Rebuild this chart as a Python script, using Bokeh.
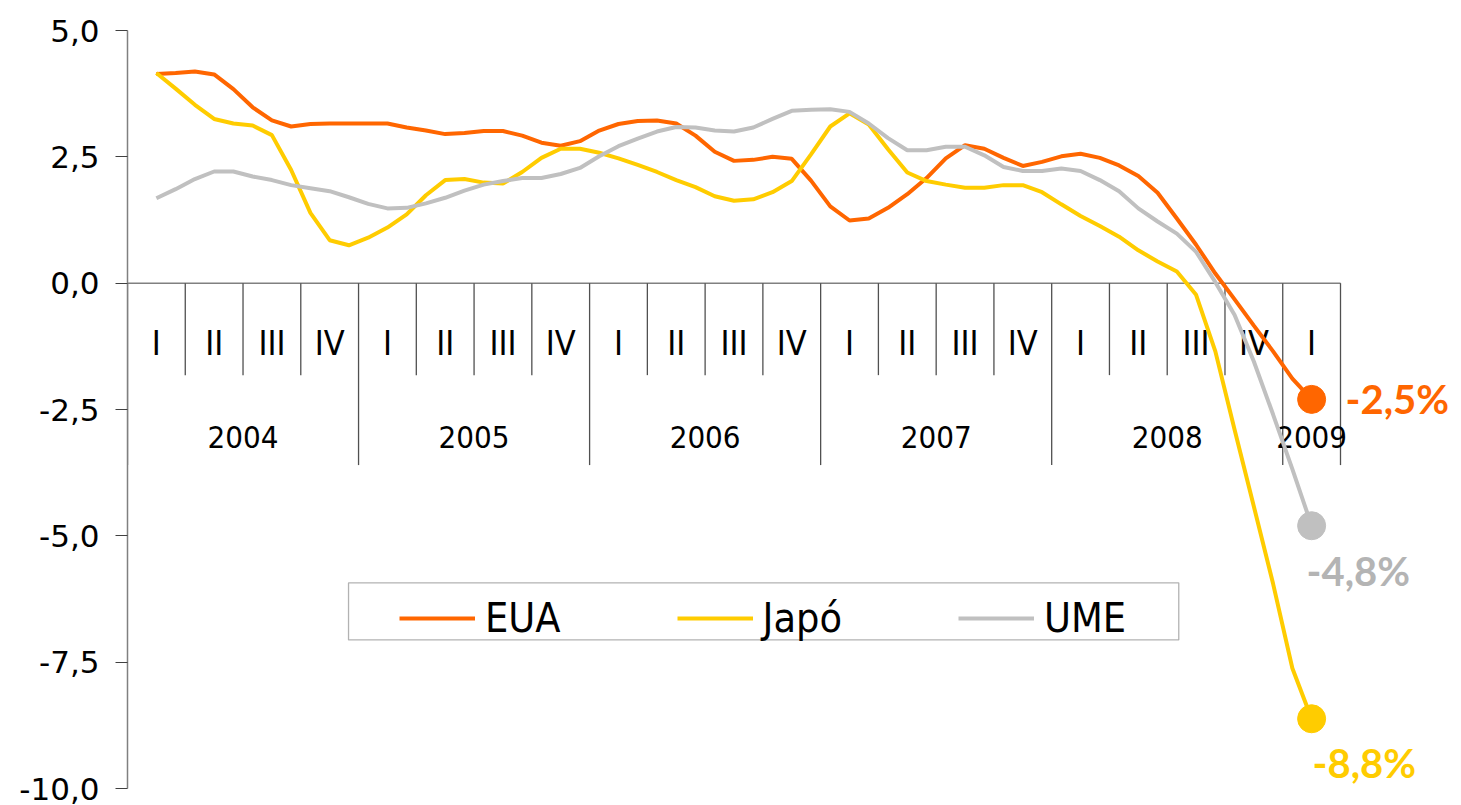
from bokeh.plotting import figure
from bokeh.models import Range1d, FixedTicker, Legend, LegendItem, CustomJSTickFormatter, BoxAnnotation
from bokeh.core.properties import value
from bokeh.embed import file_html
from bokeh.resources import INLINE

# ---- data (monthly, Feb 2004 .. Feb 2009) ----
months = list(range(1, 62))  # month index, 0 = Jan 2004
eua = [4.14, 4.16, 4.19, 4.13, 3.84, 3.48, 3.22, 3.10, 3.15, 3.16,
       3.16, 3.16, 3.16, 3.08, 3.02, 2.95, 2.97, 3.01, 3.01, 2.92,
       2.78, 2.72, 2.81, 3.02, 3.15, 3.21, 3.22, 3.16, 2.92, 2.60,
       2.42, 2.44, 2.50, 2.46, 2.03, 1.52, 1.24, 1.28, 1.49, 1.76,
       2.08, 2.47, 2.73, 2.66, 2.48, 2.32, 2.40, 2.51, 2.56, 2.48,
       2.33, 2.12, 1.79, 1.28, 0.76, 0.19, -0.32, -0.84, -1.35, -1.89, -2.30]
japo = [4.16, 3.85, 3.53, 3.25, 3.16, 3.12, 2.93, 2.24, 1.39, 0.85,
        0.75, 0.90, 1.10, 1.36, 1.74, 2.04, 2.06, 1.99, 1.97, 2.20,
        2.48, 2.66, 2.66, 2.58, 2.47, 2.34, 2.20, 2.04, 1.90, 1.72,
        1.63, 1.66, 1.80, 2.02, 2.55, 3.10, 3.36, 3.14, 2.65, 2.19,
        2.02, 1.95, 1.89, 1.89, 1.94, 1.94, 1.80, 1.56, 1.33, 1.13,
        0.92, 0.65, 0.43, 0.23, -0.23, -1.35, -2.90, -4.42, -5.95, -7.62, -8.62]
ume = [1.68, 1.86, 2.06, 2.21, 2.21, 2.11, 2.04, 1.94, 1.88, 1.82,
       1.70, 1.57, 1.48, 1.49, 1.58, 1.69, 1.83, 1.95, 2.02, 2.08,
       2.08, 2.16, 2.28, 2.51, 2.71, 2.86, 3.00, 3.09, 3.08, 3.02,
       3.00, 3.08, 3.25, 3.41, 3.43, 3.44, 3.39, 3.16, 2.87, 2.63,
       2.63, 2.70, 2.70, 2.53, 2.30, 2.22, 2.22, 2.27, 2.22, 2.04,
       1.82, 1.48, 1.22, 0.98, 0.62, 0.02, -0.63, -1.55, -2.60, -3.68, -4.80]
series_names = ["EUA", "Japó", "UME"]
end_labels = ["-2,5%", "-8,8%", "-4,8%"]
quarters = ["I", "II", "III", "IV"] * 5 + ["I"]
years = ["2004", "2005", "2006", "2007", "2008", "2009"]
yticks = [-10, -7.5, -5, -2.5, 0, 2.5, 5]

# ---- styling ----
C_EUA, C_JAP, C_UME = "#FF6600", "#FFCC00", "#C0C0C0"
LBL_UME = "#B4B4B4"
NARROW = "DejaVu Sans Condensed"

n_q = len(quarters)
x_end = 3 * n_q
x = [m + 0.5 for m in months]

W, H = 1461, 805
LEFT, TOP, BOTTOM = 127, 30, 17
frame_w = W - LEFT
p = figure(width=W, height=H,
           x_range=Range1d(0, x_end * frame_w / 1213), y_range=Range1d(-10, 5),
           output_backend="svg", toolbar_location=None,
           x_axis_location=None, y_axis_location="left",
           min_border_left=LEFT, min_border_right=0,
           min_border_top=TOP, min_border_bottom=BOTTOM)
p.grid.visible = False
p.outline_line_color = None
p.background_fill_color = "white"

ax = p.yaxis[0]
ax.ticker = FixedTicker(ticks=yticks)
ax.formatter = CustomJSTickFormatter(code="return tick.toFixed(1).replace('.', ',');")
ax.minor_tick_line_color = None
ax.major_tick_in = 0
ax.major_tick_out = 12
ax.major_tick_line_color = "#404040"
ax.axis_line_color = "#808080"
ax.axis_line_width = 1.5
ax.major_label_text_font = "DejaVu Sans"
ax.major_label_text_font_size = "31px"
ax.major_label_text_color = "#000000"
ax.major_label_standoff = 16

# ---- category axis drawn at y = 0 ----
Q_TICK = -1.82
Y_TICK = -3.60
Q_LBL = -1.19
Y_LBL = -3.05
p.segment(x0=[0], y0=[0], x1=[x_end], y1=[0], line_color="#808080", line_width=1.5)
sx, sy1 = [], []
for q in range(0, n_q + 1):
    sx.append(3 * q)
    is_year = (q == 0) or (q == n_q) or quarters[q] == "I"
    sy1.append(Y_TICK if is_year else Q_TICK)
p.segment(x0=sx, y0=[0] * len(sx), x1=sx, y1=sy1, line_color="#505050", line_width=1.3)

p.text(x=[3 * q + 1.5 for q in range(n_q)], y=[Q_LBL] * n_q, text=quarters,
       text_align="center", text_baseline="middle",
       text_font=value(NARROW), text_font_size="34px", text_color="#000000")
yc = []
start = 0
for i in range(1, n_q + 1):
    if i == n_q or quarters[i] == "I":
        yc.append((3 * start + 3 * i) / 2)
        start = i
p.text(x=yc, y=[Y_LBL] * len(yc), text=years,
       text_align="center", text_baseline="middle",
       text_font=value(NARROW), text_font_size="31px", text_color="#000000")

# ---- legend frame ----
p.add_layout(BoxAnnotation(left=11.48, right=54.6, top=-5.93, bottom=-7.06,
                           fill_color="white", fill_alpha=1.0,
                           line_color="#000000", line_width=1.3, level="underlay"))

# ---- series ----
r_e = p.line(x, eua, line_color=C_EUA, line_width=4)
r_j = p.line(x, japo, line_color=C_JAP, line_width=4)
r_u = p.line(x, ume, line_color=C_UME, line_width=4)

p.scatter([x[-1]], [eua[-1]], size=28, color=C_EUA)
p.scatter([x[-1]], [japo[-1]], size=28, color=C_JAP)
p.scatter([x[-1]], [ume[-1]], size=28, color=C_UME)

BOLD = "Lato"
p.text([x[-1]], [eua[-1]], text=[end_labels[0]], x_offset=34, y_offset=0,
       text_align="left", text_baseline="middle", text_font=value(BOLD),
       text_font_style="bold", text_font_size="40px", text_color=C_EUA)
p.text([x[-1]], [japo[-1]], text=[end_labels[1]], x_offset=1, y_offset=44,
       text_align="left", text_baseline="middle", text_font=value(BOLD),
       text_font_style="bold", text_font_size="40px", text_color=C_JAP)
p.text([x[-1]], [ume[-1]], text=[end_labels[2]], x_offset=-5, y_offset=45,
       text_align="left", text_baseline="middle", text_font=value(BOLD),
       text_font_style="bold", text_font_size="40px", text_color=LBL_UME)

legend = Legend(items=[LegendItem(label=series_names[0], renderers=[r_e]),
                       LegendItem(label=series_names[1], renderers=[r_j]),
                       LegendItem(label=series_names[2], renderers=[r_u])],
                orientation="horizontal", location=(272, 146),
                glyph_width=76, glyph_height=30, label_standoff=10, spacing=116,
                padding=8, margin=0,
                label_text_font=NARROW, label_text_font_size="41px",
                label_text_color="#000000",
                border_line_color=None, background_fill_alpha=0.0)
p.add_layout(legend)

open("out.html", "w").write(file_html(p, INLINE))
